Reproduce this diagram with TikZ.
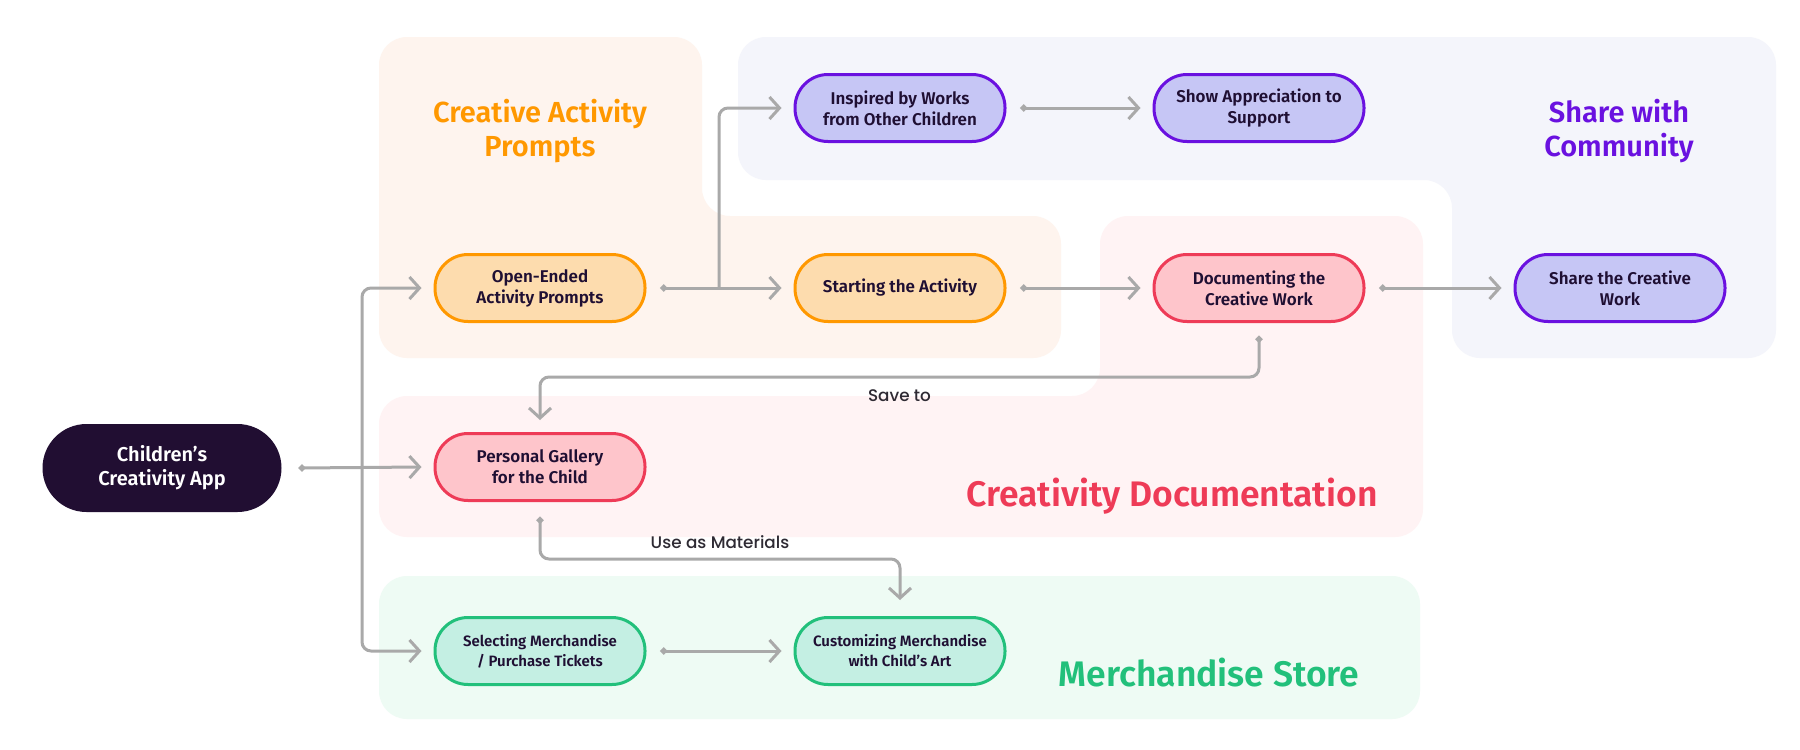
\documentclass[tikz,border=0pt]{standalone}
\usepackage{fontspec}
\setmainfont{Fira Sans}[BoldFont={* SemiBold}]
\newfontfamily\lblfont{Poppins}[UprightFont={* Medium}]
\usetikzlibrary{arrows.meta,calc}
\definecolor{porange}{HTML}{FEF4EE}
\definecolor{ppurple}{HTML}{F4F5FB}
\definecolor{pred}{HTML}{FFF3F4}
\definecolor{pgreen}{HTML}{EEFBF4}
\definecolor{norangef}{HTML}{FDDCAE}
\definecolor{norange}{HTML}{FF9800}
\definecolor{npurplef}{HTML}{C6C6F5}
\definecolor{npurple}{HTML}{6A11E0}
\definecolor{nredf}{HTML}{FEC5CB}
\definecolor{nred}{HTML}{EE3B57}
\definecolor{ngreenf}{HTML}{C4EFE3}
\definecolor{ngreen}{HTML}{22C07B}
\definecolor{appf}{HTML}{210E32}
\definecolor{txt}{HTML}{1F0F33}
\definecolor{cg}{HTML}{A9A9A9}
\definecolor{lbltxt}{HTML}{2E2A33}
\tikzset{
  base/.style={rectangle, rounded corners=33pt, minimum width=210pt, minimum height=67pt,
    line width=3pt, align=center, text=txt, inner sep=0pt,
    font=\fontsize{17}{21}\selectfont\bfseries},
  onode/.style={base, draw=norange, fill=norangef},
  pnode/.style={base, draw=npurple, fill=npurplef},
  rnode/.style={base, draw=nred, fill=nredf},
  gnode/.style={base, draw=ngreen, fill=ngreenf, font=\fontsize{15}{20}\selectfont\bfseries},
  appnode/.style={rectangle, rounded corners=44pt, minimum width=239pt, minimum height=88pt,
    fill=appf, text=white, align=center, inner sep=0pt,
    font=\fontsize{20}{24}\selectfont\bfseries},
  title/.style={align=center, font=\fontsize{29}{34}\selectfont\bfseries},
  bigtitle/.style={align=center, font=\fontsize{35.5}{40}\selectfont\bfseries},
  lbl/.style={font=\lblfont\fontsize{16.8}{20}\selectfont, text=lbltxt, inner sep=0pt},
  panel/.style={rounded corners=28pt},
  conn/.style={draw=cg, line width=3pt, rounded corners=9pt,
    {Circle[length=6.5pt]}-{Straight Barb[length=10pt,width=22pt]}},
  conntwo/.style={draw=cg, line width=3pt, rounded corners=9pt,
    -{Straight Barb[length=10pt,width=22pt]}},
}
\begin{document}
\begin{tikzpicture}[x=1pt,y=-1pt]
\fill[white] (0,0) rectangle (1800,750);
\useasboundingbox (0,0) rectangle (1800,750);
% panels
\fill[porange, panel] (379,37) -- (702,37) -- (702,216) -- (1061,216) -- (1061,358) -- (379,358) -- cycle;
\fill[ppurple, panel] (738,37) -- (1776,37) -- (1776,358) -- (1452,358) -- (1452,180) -- (738,180) -- cycle;
\fill[pred, panel] (1100,216) -- (1423,216) -- (1423,537) -- (379,537) -- (379,396) -- (1100,396) -- cycle;
\fill[pgreen, panel] (379,576) -- (1420,576) -- (1420,719) -- (379,719) -- cycle;
% titles
\node[title, text=norange] (t1) at (540,131) {Creative Activity\\Prompts};
\node[title, text=npurple] (t2) at (1619,131) {Share with\\Community};
\node[bigtitle, text=nred] (t3) at (1172,496) {Creativity Documentation};
\node[bigtitle, text=ngreen] (t4) at (1209,673) {Merchandise Store};
% nodes
\node[appnode] (app) at (162,468) {Children’s\\Creativity App};
\node[onode] (open) at (540,288) {Open-Ended\\Activity Prompts};
\node[onode] (start) at (900,288) {Starting the Activity};
\node[rnode] (doc) at (1259,288) {Documenting the\\Creative Work};
\node[pnode] (sharew) at (1620,288) {Share the Creative\\Work};
\node[pnode] (insp) at (900,108) {Inspired by Works\\from Other Children};
\node[pnode] (appr) at (1259,108) {Show Appreciation to\\Support};
\node[rnode] (gal) at (540,467) {Personal Gallery\\for the Child};
\node[gnode] (sel) at (540,651) {Selecting Merchandise\\/ Purchase Tickets};
\node[gnode] (cust) at (900,651) {Customizing Merchandise\\with Child’s Art};
% connectors
\coordinate (trunk) at (362,468);
\coordinate (br) at (719,288);
\draw[conn] ($(app.east)+(17,0)$) -- ($(gal.west)+(-12,0)$);
\draw[conntwo] (trunk) |- ($(open.west)+(-12,0)$);
\draw[conntwo] (trunk) |- ($(sel.west)+(-12,0)$);
\draw[conn] ($(open.east)+(14,0)$) -- ($(start.west)+(-12,0)$);
\draw[conntwo] (br) |- ($(insp.west)+(-12,0)$);
\draw[conn] ($(start.east)+(14,0)$) -- ($(doc.west)+(-12,0)$);
\draw[conn] ($(doc.east)+(14,0)$) -- ($(sharew.west)+(-12,0)$);
\draw[conn] ($(insp.east)+(14,0)$) -- ($(appr.west)+(-12,0)$);
\draw[conn] ($(sel.east)+(14,0)$) -- ($(cust.west)+(-12,0)$);
\draw[conn] ($(doc.south)+(0,13)$) -- ++(0,41) -| node[lbl, pos=0.25, yshift=-19pt] (saveto) {Save to} ($(gal.north)+(0,-12)$);
\draw[conn] ($(gal.south)+(0,15)$) -- ++(0,42) -| node[lbl, pos=0.25, yshift=17pt] (usemat) {Use as Materials} ($(cust.north)+(0,-16)$);
\end{tikzpicture}
\end{document}
